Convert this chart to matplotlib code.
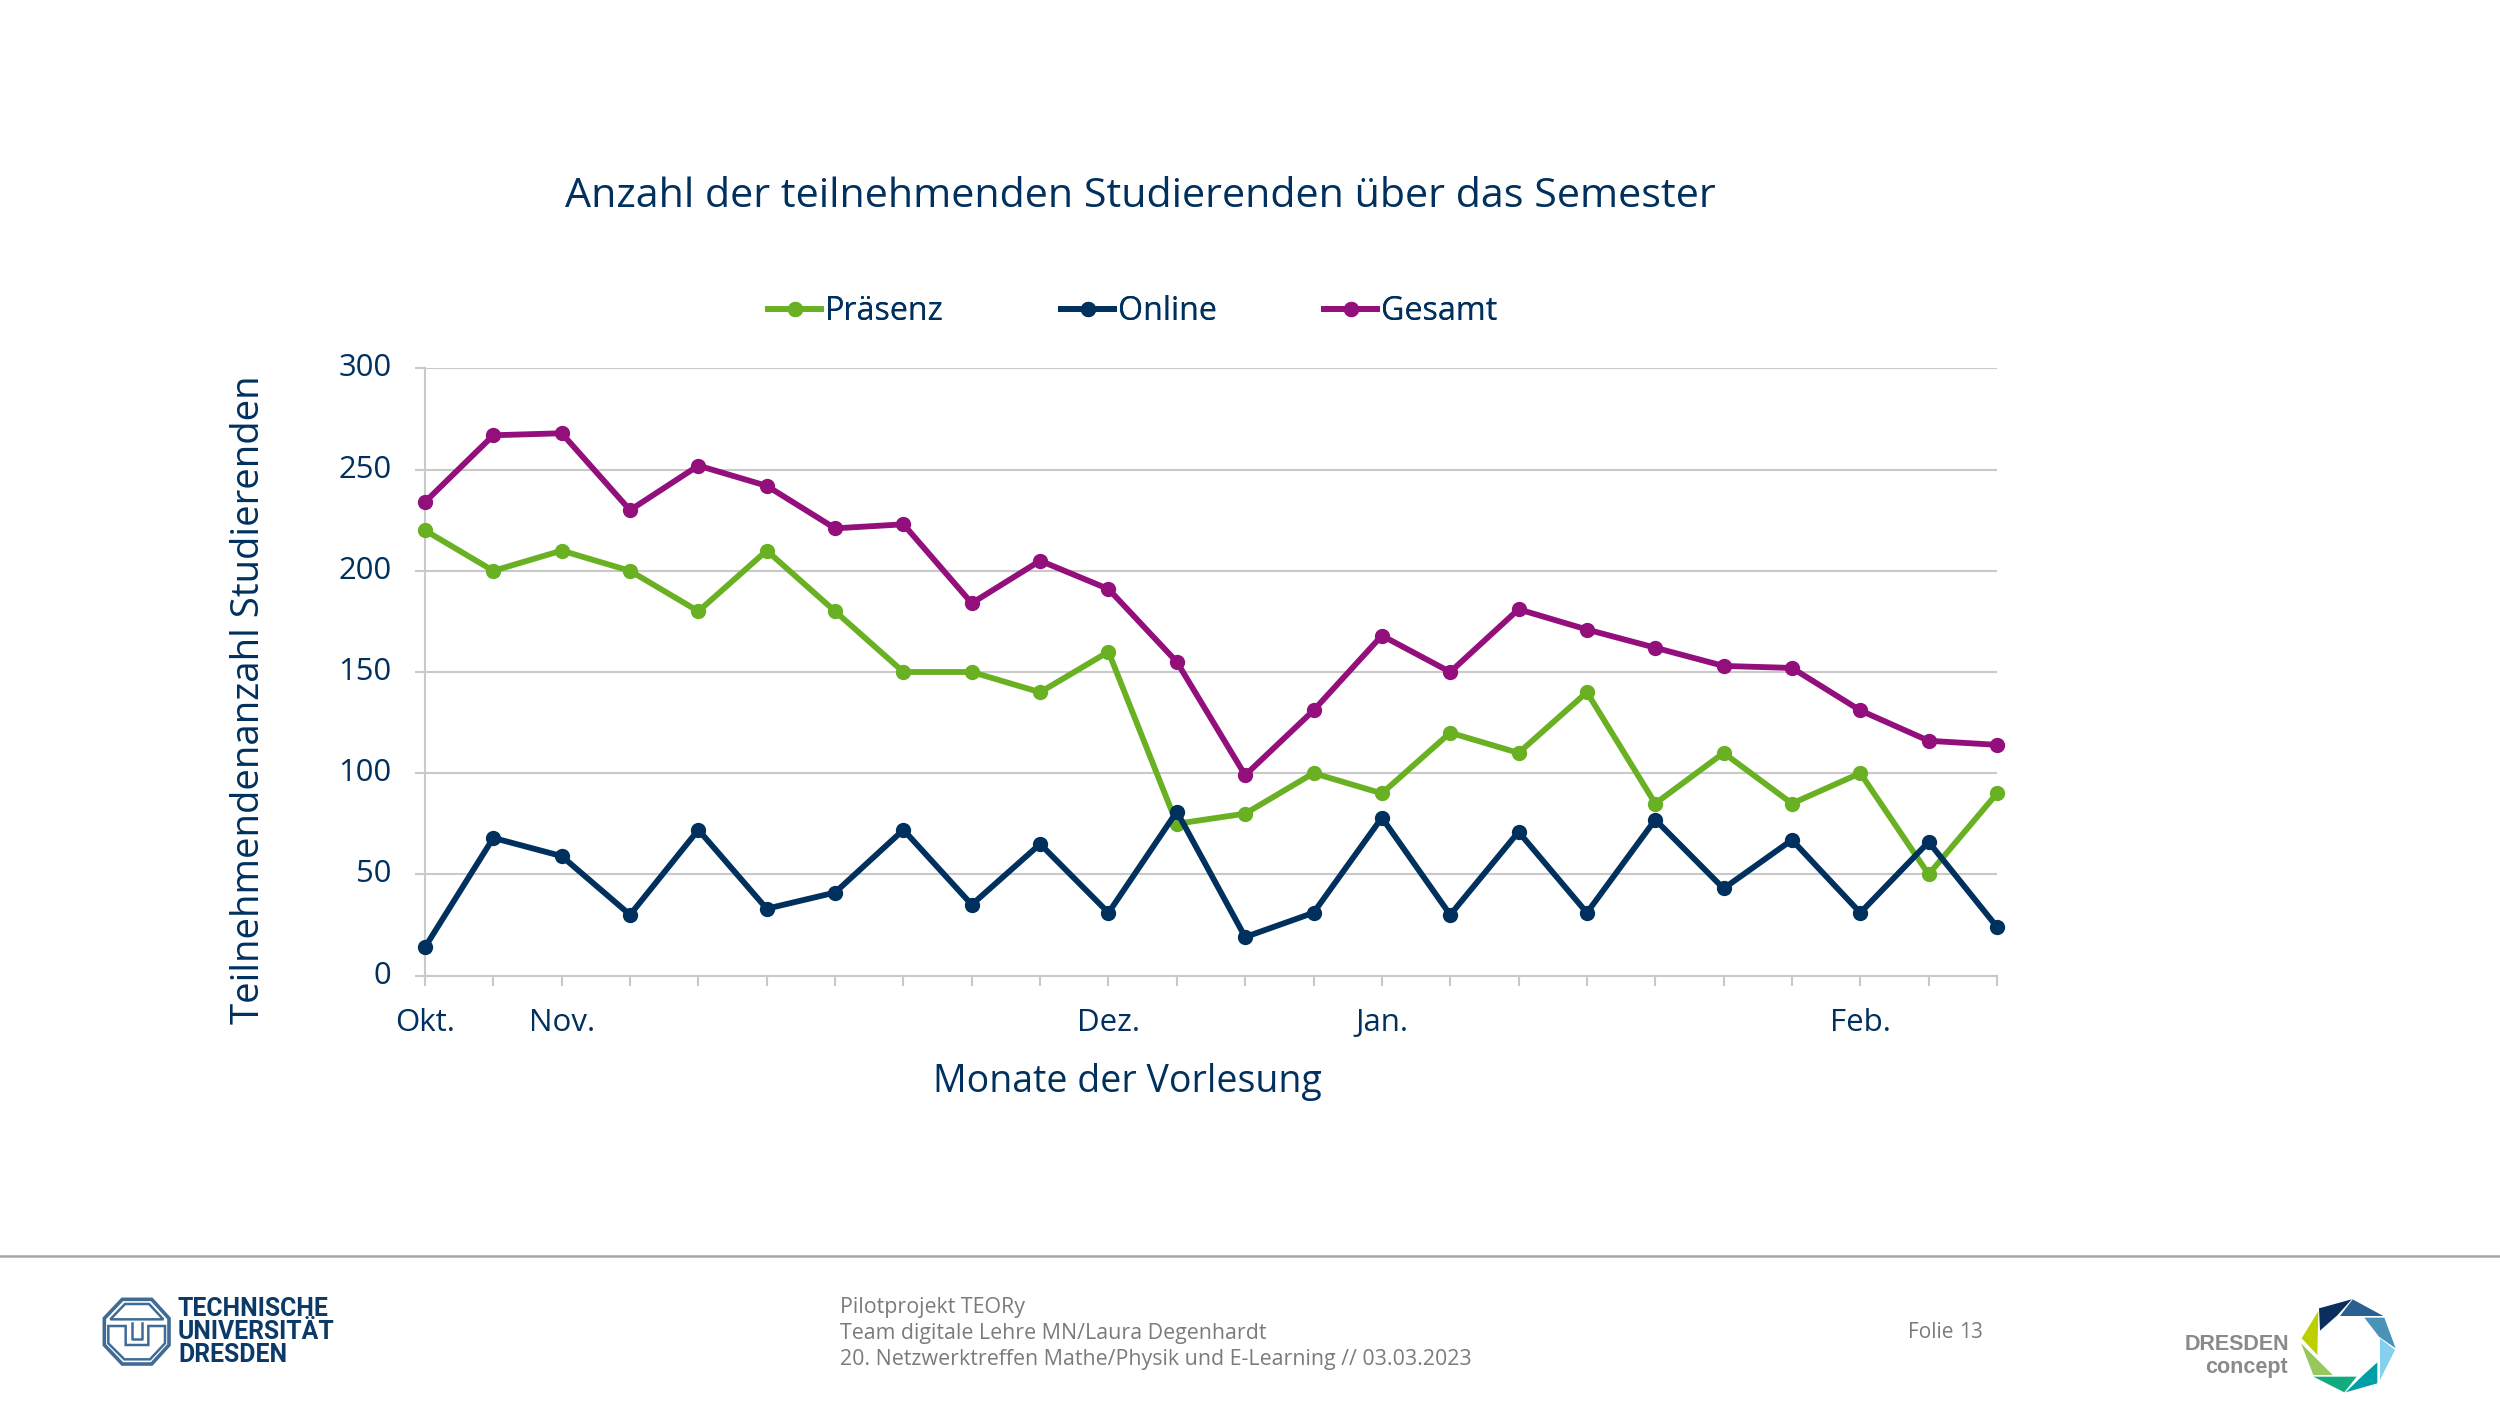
import matplotlib
matplotlib.use("Agg")
import matplotlib.pyplot as plt
from matplotlib.patches import Polygon

plt.rcParams["font.family"] = ["Open Sans", "DejaVu Sans"]

W, H = 2500, 1406
NAVY = "#00305d"
GREEN = "#6ab023"
PURPLE = "#930f7c"
GRID = "#c9c9c9"
FOOT = "#7b7b7b"

praesenz = [220, 200, 210, 200, 180, 210, 180, 150, 150, 140, 160, 75,
            80, 100, 90, 120, 110, 140, 85, 110, 85, 100, 50, 90]
online = [14, 68, 59, 30, 72, 33, 41, 72, 35, 65, 31, 81,
          19, 31, 78, 30, 71, 31, 77, 43, 67, 31, 66, 24]
gesamt = [234, 267, 268, 230, 252, 242, 221, 223, 184, 205, 191, 155,
          99, 131, 168, 150, 181, 171, 162, 153, 152, 131, 116, 114]
x_labels = ["Okt.", "", "Nov.", "", "", "", "", "", "", "", "Dez.", "",
            "", "", "Jan.", "", "", "", "", "", "", "Feb.", "", ""]
y_ticks = [0, 50, 100, 150, 200, 250, 300]

footer_lines = ["Pilotprojekt TEORy",
                "Team digitale Lehre MN/Laura Degenhardt",
                "20. Netzwerktreffen Mathe/Physik und E-Learning // 03.03.2023"]

# chart box in pixels
LEFT, RIGHT, TOP, BOTTOM = 425, 1997, 368.5, 975.5
LEGEND_X = [768, 1061, 1324]  # left edge of each legend entry, pixels


def tu_px(zx, zy):
    return 95 + zx / 3, 1290 + zy / 3


def concept_px(zx, zy):
    return 2285 + zx / 3, 1285 + zy / 3


def draw_chart(fig):
    ax = fig.add_axes([LEFT / W, 1 - BOTTOM / H, (RIGHT - LEFT) / W, (BOTTOM - TOP) / H])
    xs = list(range(len(gesamt)))
    style = dict(lw=4.2, marker="o", ms=10, clip_on=False, solid_joinstyle="round", zorder=3)
    line_p, = ax.plot(xs, praesenz, color=GREEN, label="Präsenz", **style)
    line_o, = ax.plot(xs, online, color=NAVY, label="Online", **style)
    line_g, = ax.plot(xs, gesamt, color=PURPLE, label="Gesamt", **style)

    ax.set_xlim(0, len(gesamt) - 1)
    ax.set_ylim(0, 300)
    ax.set_yticks(y_ticks)
    ax.set_xticks(xs)
    ax.set_xticklabels(x_labels)
    ax.grid(axis="y", color=GRID, lw=1.5)
    ax.set_axisbelow(True)
    ax.tick_params(axis="y", color=GRID, width=1.5, length=7, pad=17, labelcolor=NAVY, labelsize=22.3)
    ax.tick_params(axis="x", color=GRID, width=1.5, length=7.5, pad=16, labelcolor=NAVY, labelsize=22.5)
    for label in ax.get_yticklabels():
        label.set_y(label.get_position()[1])
        label.set_verticalalignment("center")
    for side in ["top", "right"]:
        ax.spines[side].set_visible(False)
    for side in ["left", "bottom"]:
        ax.spines[side].set_color(GRID)
        ax.spines[side].set_linewidth(1.5)

    # one legend per entry, the gaps in the original are uneven
    for line, x in zip([line_p, line_o, line_g], LEGEND_X):
        fig.add_artist(fig.legend(handles=[line], loc="center left", bbox_to_anchor=(x / W, 1 - 312 / H),
                                  frameon=False, fontsize=23.2, labelcolor=NAVY, handlelength=1.65,
                                  handletextpad=0.12, borderpad=0, borderaxespad=0))


def draw_tu_logo(ov):
    blue = "#3f6b95"
    outer = [(82, 28), (170, 28), (222, 85), (222, 165), (170, 222),
             (82, 222), (28, 165), (28, 85)]
    upper = [(90, 42), (162, 42), (205, 88), (46, 88)]
    lower = [(40, 108), (92, 108), (92, 165), (160, 165), (160, 108), (210, 108),
             (210, 160), (165, 208), (88, 208), (40, 160)]
    for pts, lw in [(outer, 2.6), (upper, 1.8), (lower, 1.8)]:
        ov.add_patch(Polygon([tu_px(*p) for p in pts], closed=True, fill=False, ec=blue, lw=lw))
    u_in = [(110, 100), (110, 148), (142, 148), (142, 100)]
    ov.plot(*zip(*[tu_px(*p) for p in u_in]), color=blue, lw=1.8)
    for word, y in [("TECHNISCHE", 1309), ("UNIVERSITÄT", 1332), ("DRESDEN", 1355)]:
        ov.text(178, y, word, family="Roboto", weight="bold",
                fontsize=17.8, color="#0b3a68", va="center", ha="left")


def draw_concept_logo(ov):
    parts = [
        ("#0b2f5c", [(102, 70), (200, 43), (158, 90), (105, 137)]),
        ("#2a6090", [(203, 43), (295, 93), (165, 93)]),
        ("#4a93b8", [(238, 98), (298, 98), (332, 190), (282, 155)]),
        ("#85d0ee", [(285, 160), (330, 195), (285, 285)]),
        ("#009ea5", [(277, 232), (277, 295), (182, 322), (235, 270)]),
        ("#12ab80", [(85, 275), (215, 275), (178, 322)]),
        ("#97c85a", [(48, 175), (143, 270), (85, 270)]),
        ("#bccf00", [(100, 78), (97, 210), (50, 160)]),
    ]
    for color, pts in parts:
        ov.add_patch(Polygon([concept_px(*p) for p in pts], closed=True, fc=color, ec="none"))
    ov.text(2289, 1344, "DRESDEN", fontsize=15.5, weight="bold", color="#8a8a8a", ha="right", va="center",
            family="Liberation Sans")
    ov.text(2288, 1368, "concept", fontsize=15.5, weight="bold", color="#8a8a8a", ha="right", va="center",
            family="Liberation Sans")


def main():
    fig = plt.figure(figsize=(W / 100, H / 100), dpi=100, facecolor="white")
    draw_chart(fig)

    # overlay in pixel coordinates for the slide texts and footer
    ov = fig.add_axes([0, 0, 1, 1], facecolor="none")
    ov.set_xlim(0, W)
    ov.set_ylim(H, 0)
    ov.axis("off")

    ov.text(1140, 197, "Anzahl der teilnehmenden Studierenden über das Semester",
            fontsize=29.7, color=NAVY, ha="center", va="center")
    ov.text(1127, 1082, "Monate der Vorlesung", fontsize=27, color=NAVY, ha="center", va="center")
    ov.text(249, 700, "Teilnehmendenanzahl Studierenden", fontsize=27.6, color=NAVY,
            ha="center", va="center", rotation=90)

    ov.plot([0, W], [1256, 1256], color="#a6a6a6", lw=1.8)
    for line, y in zip(footer_lines, [1308, 1334, 1359]):
        ov.text(840, y, line, fontsize=15.4, color=FOOT, ha="left", va="center")
    ov.text(1908, 1332, "Folie", fontsize=15, color=FOOT, ha="left", va="center")
    ov.text(1959, 1332, "13", fontsize=15, color=FOOT, ha="left", va="center")

    draw_tu_logo(ov)
    draw_concept_logo(ov)

    fig.savefig("out.png", dpi=100)


if __name__ == "__main__":
    main()
